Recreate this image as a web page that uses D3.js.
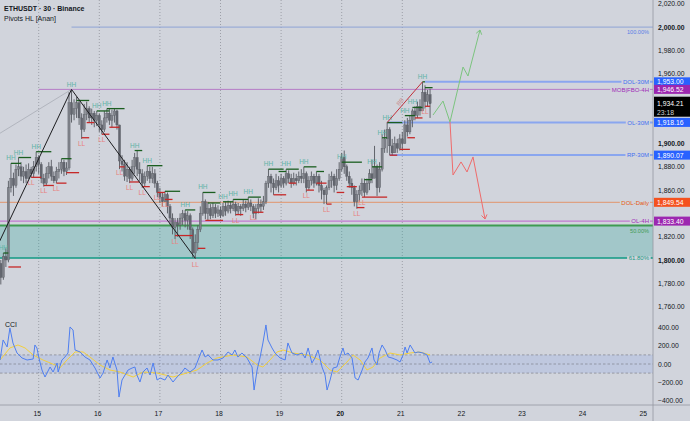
<!DOCTYPE html>
<html lang="en">
<head>
<meta charset="UTF-8">
<title>ETHUSDT 30 Binance</title>
<style>
  body { margin: 0; background: #d1d4dc; }
  svg { display: block; font-family: 'Liberation Sans', Arial, sans-serif; }
</style>
</head>
<body>
<svg id="svg" width="690" height="421"></svg>
<script src="https://d3js.org/d3.v7.min.js"></script>
<script>
// hourly bars, first bar = Apr 14 09:00
const firstOpen = 1797
const closes = [1785,1803,1800,1862,1870,1864,1878,1880,1872,1876,1870,1878,1874,1880,1888,1882,1870,1866,1874,1880,
  1872,1868,1876,1878,1884,1876,1879,1935,1925,1930,1935,1922,1912,1925,1930,1922,1926,1920,1924,1916,
  1912,1922,1926,1920,1924,1928,1916,1885,1882,1872,1878,1870,1880,1888,1878,1874,1866,1872,1876,1870,
  1874,1866,1858,1854,1850,1856,1846,1836,1828,1832,1830,1836,1840,1834,1838,1826,1806,1815,1826,1840,
  1850,1840,1844,1838,1845,1840,1843,1838,1846,1842,1847,1844,1848,1842,1846,1844,1848,1845,1849,1846,
  1840,1844,1848,1846,1850,1866,1872,1866,1862,1868,1864,1870,1866,1874,1870,1866,1870,1868,1872,1870,
  1874,1862,1868,1872,1866,1872,1864,1860,1856,1862,1868,1872,1864,1870,1878,1888,1880,1872,1866,1862,
  1850,1856,1860,1866,1858,1866,1874,1870,1880,1862,1878,1896,1904,1912,1898,1892,1900,1896,1904,1900,
  1916,1910,1920,1928,1924,1932,1928,1944,1936,1942,1934.21]
const highs = [1800,1806,1810,1868,1883,1875,1882,1888,1884,1880,1882,1883,1880,1885,1893,1890,1884,1874,1880,1884,
  1886,1876,1880,1884,1887,1886,1884,1944,1946,1938,1940,1937,1926,1934,1936,1932,1930,1928,1928,1926,
  1920,1928,1930,1930,1929,1930,1929,1916,1890,1886,1884,1880,1886,1892,1894,1884,1878,1876,1881,1880,
  1880,1878,1868,1862,1858,1859,1858,1848,1840,1836,1836,1840,1843,1843,1842,1840,1828,1822,1830,1846,
  1858,1852,1850,1848,1849,1848,1847,1846,1849,1850,1851,1850,1852,1850,1849,1848,1852,1851,1854,1852,
  1848,1848,1853,1852,1855,1868,1878,1874,1870,1874,1872,1874,1872,1878,1877,1874,1875,1874,1876,1878,
  1880,1876,1872,1876,1874,1876,1874,1868,1862,1864,1874,1876,1874,1878,1884,1892,1894,1882,1876,1870,
  1864,1860,1864,1870,1870,1870,1878,1886,1898,1882,1884,1908,1912,1918,1914,1904,1906,1904,1908,1910,
  1920,1922,1924,1930,1932,1936,1938,1953,1950,1946,1947]
const lows = [1779,1783,1794,1798,1858,1855,1862,1872,1868,1866,1866,1870,1871,1871,1876,1874,1866,1863,1864,1870,
  1868,1866,1866,1870,1874,1872,1873,1877,1918,1920,1922,1916,1904,1910,1920,1918,1916,1914,1915,1910,
  1908,1910,1918,1916,1914,1918,1912,1878,1876,1868,1867,1866,1868,1874,1872,1868,1862,1863,1868,1866,
  1866,1862,1854,1849,1846,1850,1840,1830,1822,1818,1820,1826,1830,1828,1826,1818,1802,1801,1808,1824,
  1838,1835,1834,1835,1836,1836,1837,1836,1837,1838,1840,1840,1842,1838,1839,1838,1842,1841,1843,1842,
  1836,1835,1840,1841,1843,1848,1862,1858,1856,1860,1858,1862,1862,1864,1866,1862,1864,1864,1866,1866,
  1866,1858,1860,1864,1862,1864,1858,1852,1848,1848,1860,1862,1858,1860,1868,1876,1874,1868,1862,1856,
  1846,1844,1850,1855,1854,1856,1860,1866,1872,1855,1858,1876,1892,1892,1890,1890,1892,1892,1894,1894,
  1900,1906,1908,1914,1920,1922,1924,1928,1930,1932,1922]

// pivot segments: [bar, price, length in bars, show label]
const pivotHighs = [[1,1806,2,1],[4,1883,4,1],[7,1888,5,1],[14,1893,6,1],[24,1887,4,0],[28,1946,0,1],[30,1937,5,0],
  [38,1928,5,1],[42,1930,7,1],[53,1894,3,1],[58,1881,6,1],[65,1859,6,0],[73,1843,4,1],[80,1858,5,1],
  [82,1849,5,0],[88,1850,4,1],[92,1852,6,1],[98,1854,5,1],[106,1878,6,1],[110,1876,3,0],[113,1878,5,1],
  [120,1880,5,1],[125,1876,3,0],[135,1884,8,1],[144,1869,3,0],[147,1880,4,1],[151,1905,2,1],[153,1918,6,1],
  [160,1924,4,1],[163,1931,4,1],[167,1953,1,1],[168,1948,3,0]]
const pivotLows = [[3,1794,5,0],[12,1871,4,1],[17,1864,4,1],[22,1866,4,1],[26,1875,5,0],[32,1905,3,1],[34,1918,3,0],
  [40,1908,3,1],[43,1914,4,0],[47,1880,2,1],[51,1867,4,1],[56,1863,3,1],[62,1858,3,1],[65,1852,3,1],
  [69,1821,7,1],[77,1801,0,1],[78,1810,3,0],[81,1834,7,0],[93,1839,3,1],[100,1841,4,1],[108,1856,5,0],
  [114,1866,3,0],[121,1860,3,1],[125,1866,4,0],[129,1848,2,1],[133,1858,3,0],[137,1863,4,0],[141,1845,3,1],
  [143,1854,10,1],[154,1890,3,0],[158,1895,4,0],[161,1905,3,0],[164,1922,3,0],[168,1932,2,1]]

// drawings, [bar, price]
const zigzag = [[-4,1800],[28,1946.5],[77,1801.5]]
const trendLine = [[-10,1896],[28,1946.5]]
const bbLine = [[153,1918],[167,1953]]
// projections, [day, price]
const bullPath = [[21.507,1924.5],[21.672,1936.5],[21.787,1918.5],[22.002,1965.7],[22.084,1958],[22.282,1997.5]]
const bearPath = [[21.787,1918.5],[21.837,1873],[21.969,1884.2],[22.068,1875.6],[22.167,1888.5],[22.365,1835.2]]

// horizontal levels
const levelNames = ['100.00%','DOL-30M','MOB|FBO-4H','OL-30M','RP-30M','DOL-Daily','OL-4H','50.00%','61.80%']
const levelPrices = [2000,1953.00,1946.52,1918.16,1890.07,1849.54,1833.40,1829.6,1801.7]
const levelStart = [28,168,15,153,154,-9,-9,-9,-9]
const zoneTop = 1829.6
const zoneBottom = 1801.7
const lastPrice = 1934.21
const countdown = '23:18'

// CCI [bar, value]
const cci = [[-0.3,44],[0.9,264],[2.5,187],[3.6,396],[4.8,231],[6.4,121],[8.4,66],[10.4,44],[12.8,55],[13.5,209],
  [14.3,176],[15.1,66],[16.3,-66],[17.5,-143],[19.5,-33],[20.7,-88],[22.3,11],[22.7,-88],[24.2,44],[25.4,77],
  [26.6,121],[27.4,407],[28.6,374],[29.4,154],[31.4,132],[33.3,77],[35.3,44],[37.3,-44],[39.3,-154],[40.5,-99],
  [42.1,44],[43.2,-44],[44.4,77],[46,-66],[46.8,-363],[48,-176],[49.2,-121],[50.4,-66],[52,-44],[53.1,-33],
  [53.9,-121],[55.1,-198],[56.3,-88],[57.9,-44],[59.1,-121],[60.3,11],[61.9,-176],[63.1,-154],[65,-176],[66.2,-121],
  [68.2,-198],[69.8,-143],[71.8,-88],[72.9,-44],[74.9,-88],[76.9,-44],[78.9,99],[79.7,154],[80.9,77],[82.1,99],
  [84,44],[86,44],[88,66],[90,132],[91.6,99],[92.7,154],[93.9,77],[95.5,121],[97.5,66],[99.5,-33],
  [100.3,-286],[101.5,-66],[102.7,77],[103.8,231],[105,429],[105.8,264],[107.4,176],[108.6,121],[110.6,66],[112.6,44],
  [113.7,231],[115.3,121],[117.3,99],[119.3,121],[120.5,66],[121.7,176],[123.2,11],[124.4,66],[125.6,154],[127.2,-33],
  [128.4,-121],[129.2,-286],[130.4,-176],[131.6,-44],[133.1,-33],[134.3,77],[135.5,176],[136.3,99],[137.5,121],[139.1,66],
  [140.3,-154],[141.5,-176],[143.1,-66],[144.2,22],[145.4,66],[147,176],[147.8,44],[149,-11],[149.8,121],[151,209],
  [152.2,154],[153.4,77],[154.9,66],[156.9,44],[158.1,22],[159.3,99],[160.1,187],[160.9,121],[162.1,209],[163.3,154],
  [164,121],[165.2,132],[167.2,121],[168.8,99],[170,11],[170.8,22]]
const cciMa = [[-0.3,44],[3.6,176],[6.8,209],[9.6,176],[12.8,99],[16.7,44],[21.5,-11],[23.4,-44],[26.2,44],[29.4,132],
  [32.6,132],[35.3,77],[39.3,-11],[43.2,-66],[47.2,-88],[52.4,-143],[56.3,-88],[61.9,-99],[68.2,-143],[73.7,-99],
  [77.7,-66],[81.7,11],[85.6,66],[92,99],[97.5,77],[101.5,-11],[103.8,-33],[106.6,44],[109.4,132],[111.8,154],
  [115.7,121],[121.3,99],[126.4,44],[130.4,-66],[133.1,-88],[137.1,22],[139.5,99],[142.3,44],[145,-66],[147.4,-33],
  [150.2,66],[154.1,121],[158.1,99],[162.1,121],[166,132],[170,99]]

const priceTicks = d3.range(1760, 2021, 20)
const cciTicks = [-400, -200, 0, 200, 400]
const dayTicks = d3.range(15, 26)
const gridDays = d3.range(15, 22)

// ---- scales
const W = 690, axisX = 653, paneBottom = 316, timeAxisY = 405
const x = d3.scaleLinear().domain([14, 25]).range([-21.9, 644.7])
const barDay = i => 14 + (9 + i) / 24
const xb = i => x(barDay(i))
const y = d3.scaleLinear().domain([1800, 2000]).range([260, 27.1])
const yc = d3.scaleLinear().domain([-400, 400]).range([400.4, 327.6])
const fmt = d3.format(',.2f')

const svg = d3.select('#svg')
svg.append('rect').attr('width', W).attr('height', 421).attr('fill', '#d1d4dc')

const defs = svg.append('defs')
defs.append('clipPath').attr('id', 'pane').append('rect')
    .attr('x', 0).attr('y', 0).attr('width', axisX).attr('height', paneBottom)
defs.append('clipPath').attr('id', 'cpane').append('rect')
    .attr('x', 0).attr('y', paneBottom).attr('width', axisX).attr('height', timeAxisY - paneBottom)

// vertical grid
svg.append('g').selectAll('line').data(gridDays).join('line')
    .attr('x1', d => x(d)).attr('x2', d => x(d))
    .attr('y1', 0).attr('y2', timeAxisY)
    .attr('stroke', '#8f929b').attr('stroke-width', 0.8).attr('stroke-dasharray', '1,2')

const pane = svg.append('g').attr('clip-path', 'url(#pane)')

// fib zone
pane.append('rect')
    .attr('x', 0).attr('width', axisX)
    .attr('y', y(zoneTop)).attr('height', y(zoneBottom) - y(zoneTop))
    .attr('fill', '#26a69a').attr('opacity', 0.28)

const levelStyle = {
    '100.00%': { c: '#8fa3d6', w: 1, t: '#5a7ee6' },
    'DOL-30M': { c: '#8aa6ef', w: 2, t: '#3f6ff0' },
    'MOB|FBO-4H': { c: '#b57cc6', w: 1, t: '#a02cb8' },
    'OL-30M': { c: '#8aa6ef', w: 2, t: '#3f6ff0' },
    'RP-30M': { c: '#8aa6ef', w: 2, t: '#3f6ff0' },
    'DOL-Daily': { c: '#e1946c', w: 1, t: '#e65a10' },
    'OL-4H': { c: '#c07ad0', w: 1.2, t: '#a02cb8' },
    '50.00%': { c: '#3f9b52', w: 2, t: '#3f9b52' },
    '61.80%': { c: '#109a83', w: 1.4, t: '#109a83' }
}

levelNames.forEach((n, k) => {
    const s = levelStyle[n]
    pane.append('line')
        .attr('x1', xb(levelStart[k])).attr('x2', axisX)
        .attr('y1', y(levelPrices[k])).attr('y2', y(levelPrices[k]))
        .attr('stroke', s.c).attr('stroke-width', s.w)
})

// candles
const bars = closes.map((c, i) => ({ i, o: i ? closes[i - 1] : firstOpen, h: highs[i], l: lows[i], c }))
const cg = pane.append('g')
cg.selectAll('line').data(bars).join('line')
    .attr('x1', d => xb(d.i)).attr('x2', d => xb(d.i))
    .attr('y1', d => y(d.h)).attr('y2', d => y(d.l))
    .attr('stroke', '#55585f').attr('stroke-width', 0.9)
cg.selectAll('rect').data(bars).join('rect')
    .attr('x', d => xb(d.i) - 1.1).attr('width', 2.2)
    .attr('y', d => y(Math.max(d.o, d.c)))
    .attr('height', d => Math.max(0.8, Math.abs(y(d.o) - y(d.c))))
    .attr('fill', d => d.c >= d.o ? '#7e8189' : '#63666f')
    .attr('stroke', '#4e5158').attr('stroke-width', 0.3)

// pivot segments and labels
pane.append('g').selectAll('line').data(pivotHighs).join('line')
    .attr('x1', d => xb(d[0])).attr('x2', d => xb(d[0] + d[2]))
    .attr('y1', d => y(d[1])).attr('y2', d => y(d[1]))
    .attr('stroke', '#1b5e20').attr('stroke-width', 1.3)
pane.append('g').selectAll('line').data(pivotLows).join('line')
    .attr('x1', d => xb(d[0])).attr('x2', d => xb(d[0] + d[2]))
    .attr('y1', d => y(d[1])).attr('y2', d => y(d[1]))
    .attr('stroke', '#c62828').attr('stroke-width', 1.3)
pane.append('g').selectAll('text').data(pivotHighs.filter(d => d[3])).join('text')
    .attr('x', d => xb(d[0])).attr('y', d => y(d[1]) - 3)
    .attr('text-anchor', 'middle').attr('font-size', 6.5)
    .attr('fill', '#5fb3a6').text('HH')
pane.append('g').selectAll('text').data(pivotLows.filter(d => d[3])).join('text')
    .attr('x', d => xb(d[0])).attr('y', d => y(d[1]) + 8)
    .attr('text-anchor', 'middle').attr('font-size', 6.5)
    .attr('fill', '#e8817f').text('LL')

// drawings
const lineB = d3.line().x(d => xb(d[0])).y(d => y(d[1]))
pane.append('path').attr('d', lineB(trendLine)).attr('fill', 'none')
    .attr('stroke', '#a4a7b0').attr('stroke-width', 0.7)
pane.append('path').attr('d', lineB(zigzag)).attr('fill', 'none')
    .attr('stroke', '#1c1c1f').attr('stroke-width', 1)
pane.append('path').attr('d', lineB(bbLine)).attr('fill', 'none')
    .attr('stroke', '#c2303a').attr('stroke-width', 1)
{
    const a = [xb(bbLine[0][0]), y(bbLine[0][1])], b = [xb(bbLine[1][0]), y(bbLine[1][1])]
    const ang = Math.atan2(b[1] - a[1], b[0] - a[0]) * 180 / Math.PI
    pane.append('text')
        .attr('transform', `translate(${(a[0] + b[0]) / 2 - 3},${(a[1] + b[1]) / 2 + 1}) rotate(${ang})`)
        .attr('text-anchor', 'middle').attr('font-size', 6).attr('fill', '#c98b8b').text('BB')
}

const lineD = d3.line().x(d => x(d[0])).y(d => y(d[1]))
function arrowPath(path, color) {
    pane.append('path').attr('d', lineD(path)).attr('fill', 'none')
        .attr('stroke', color).attr('stroke-width', 1)
    const p1 = path[path.length - 2], p2 = path[path.length - 1]
    const ax = x(p2[0]), ay = y(p2[1])
    const ang = Math.atan2(ay - y(p1[1]), ax - x(p1[0]))
    ;[-0.6, 0.6].forEach(da => {
        pane.append('line')
            .attr('x1', ax).attr('y1', ay)
            .attr('x2', ax - 5 * Math.cos(ang + da)).attr('y2', ay - 5 * Math.sin(ang + da))
            .attr('stroke', color).attr('stroke-width', 1)
    })
}
arrowPath(bullPath, '#7cc47f')
arrowPath(bearPath, '#ef6b6b')

// level labels (the fib labels sit just under their line)
levelNames.forEach((n, k) => {
    const s = levelStyle[n]
    const below = n === '100.00%' || n === '50.00%'
    const t = pane.append('text')
        .attr('x', 649).attr('y', y(levelPrices[k]) + (below ? 7 : 2.2))
        .attr('text-anchor', 'end').attr('font-size', below ? 5.6 : 6).attr('fill', s.t).text(n)
    if (!below) {
        const bb = t.node().getBBox()
        pane.insert('rect', () => t.node())
            .attr('x', bb.x - 1.5).attr('y', bb.y + 1).attr('width', bb.width + 2.5).attr('height', bb.height - 2)
            .attr('fill', '#d1d4dc')
    }
})

// CCI pane
const cp = svg.append('g').attr('clip-path', 'url(#cpane)')
cp.append('rect').attr('x', 0).attr('width', axisX)
    .attr('y', yc(100)).attr('height', yc(-100) - yc(100))
    .attr('fill', '#2962ff').attr('opacity', 0.1)
cp.selectAll('line.band').data([100, 0, -100]).join('line')
    .attr('x1', 0).attr('x2', axisX).attr('y1', d => yc(d)).attr('y2', d => yc(d))
    .attr('stroke', '#80838d').attr('stroke-width', 0.7).attr('stroke-dasharray', '2.5,2')
const lineC = d3.line().x(d => xb(d[0])).y(d => yc(d[1]))
cp.append('path').attr('d', lineC(cciMa)).attr('fill', 'none')
    .attr('stroke', '#f2cf3c').attr('stroke-width', 1)
cp.append('path').attr('d', lineC(cci)).attr('fill', 'none')
    .attr('stroke', '#4f7ff0').attr('stroke-width', 1)
svg.append('text').attr('x', 5).attr('y', 327).attr('font-size', 7).attr('fill', '#131722').text('CCI')

// axes frame
svg.append('line').attr('x1', axisX).attr('x2', axisX).attr('y1', 0).attr('y2', 421)
    .attr('stroke', '#9598a1').attr('stroke-width', 0.8)
svg.append('line').attr('x1', 0).attr('x2', W).attr('y1', timeAxisY).attr('y2', timeAxisY)
    .attr('stroke', '#9598a1').attr('stroke-width', 0.8)

// price tags decide which tick labels stay visible
const tagColor = { 'DOL-30M': '#2962ff', 'MOB|FBO-4H': '#9c27b0', 'OL-30M': '#2962ff', 'RP-30M': '#2962ff',
    'DOL-Daily': '#f4511e', 'OL-4H': '#9c27b0' }
const tagYs = levelNames.map((n, k) => tagColor[n] ? y(levelPrices[k]) : null).filter(v => v !== null)
const freeTick = p => tagYs.every(t => Math.abs(y(p) - t) > 8) && (y(p) < y(lastPrice) - 10 || y(p) > y(lastPrice) + 16)

// price axis labels
svg.append('g').selectAll('text').data(priceTicks.filter(freeTick)).join('text')
    .attr('x', 658).attr('y', d => y(d) + 2.5)
    .attr('font-size', 6.8).attr('fill', '#131722')
    .attr('font-weight', d => d % 100 === 0 ? 'bold' : 'normal')
    .text(d => fmt(d))
svg.append('g').selectAll('text').data(cciTicks).join('text')
    .attr('x', 658).attr('y', d => yc(d) + 2.5)
    .attr('font-size', 6.8).attr('fill', '#131722').text(d => fmt(d))

// time axis labels
svg.append('g').selectAll('text').data(dayTicks).join('text')
    .attr('x', d => x(d) - 1.5).attr('y', 416)
    .attr('text-anchor', 'middle').attr('font-size', 6.8).attr('fill', '#131722')
    .attr('font-weight', d => d === 20 ? 'bold' : 'normal')
    .text(d => d)

levelNames.forEach((n, k) => {
    if (!tagColor[n]) return
    const yy = y(levelPrices[k])
    svg.append('rect').attr('x', 654).attr('y', yy - 4.5).attr('width', 36).attr('height', 9)
        .attr('fill', tagColor[n])
    svg.append('text').attr('x', 657).attr('y', yy + 2.5).attr('font-size', 6.8)
        .attr('fill', '#fff').text(fmt(levelPrices[k]))
})
{
    const yy = y(lastPrice)
    svg.append('rect').attr('x', 654).attr('y', yy - 7).attr('width', 36).attr('height', 20).attr('fill', '#000')
    svg.append('text').attr('x', 657).attr('y', yy + 2.5).attr('font-size', 6.8).attr('fill', '#fff').text(fmt(lastPrice))
    svg.append('text').attr('x', 657).attr('y', yy + 11).attr('font-size', 6.8).attr('fill', '#d0d0d0').text(countdown)
}

// title
svg.append('text').attr('x', 4).attr('y', 11).attr('font-size', 7).attr('font-weight', 'bold')
    .attr('fill', '#131722').text('ETHUSDT · 30 · Binance')
svg.append('text').attr('x', 4).attr('y', 21).attr('font-size', 7)
    .attr('fill', '#131722').text('Pivots HL [Anan]')
</script>
</body>
</html>
